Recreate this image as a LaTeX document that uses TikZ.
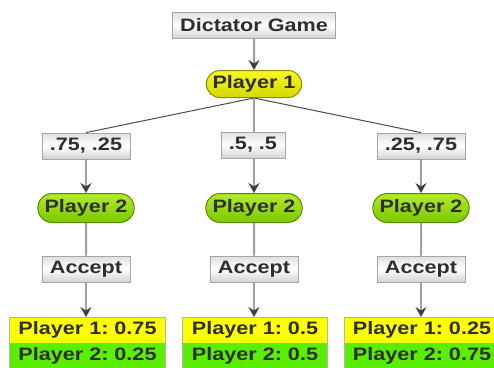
\documentclass[tikz,border=0pt]{standalone}
\usepackage{fontspec}
\setmainfont{Liberation Sans}[FakeStretch=1.2]
\frenchspacing
\usetikzlibrary{arrows.meta,shapes.misc}
\definecolor{txt}{HTML}{2E2E2E}
\definecolor{yA}{RGB}{248,248,40}
\definecolor{yB}{RGB}{215,215,0}
\definecolor{yD}{RGB}{140,140,0}
\definecolor{gA}{RGB}{178,236,40}
\definecolor{gB}{RGB}{122,200,0}
\definecolor{gD}{RGB}{85,140,0}
\definecolor{payY}{RGB}{255,255,0}
\definecolor{payG}{RGB}{90,238,0}
\begin{document}
\begin{tikzpicture}[x=1pt,y=-1pt,
  every node/.style={font=\fontsize{18}{20}\selectfont\bfseries, text=txt},
  graybox/.style={rectangle, draw=gray!70, line width=0.8pt, top color=gray!25, bottom color=gray!35, middle color=white, minimum height=26pt, inner xsep=8pt, inner ysep=0pt},
  pillY/.style={rounded rectangle, draw=yD, line width=1pt, top color=yA, bottom color=yB, minimum width=102pt, minimum height=27pt, inner ysep=0pt},
  pillG/.style={rounded rectangle, draw=gD, line width=1pt, top color=gA, bottom color=gB, minimum width=103pt, minimum height=29pt, inner ysep=0pt},
  rowY/.style={rectangle, fill=payY, minimum height=26pt, inner xsep=8pt, inner ysep=0pt, anchor=north},
  rowG/.style={rectangle, fill=payG, minimum height=26pt, inner xsep=8pt, inner ysep=0pt, anchor=north},
  conn/.style={draw=gray!75, line width=2pt},
  arr/.style={conn, -{Stealth[length=10pt,width=11pt,inset=3.5pt,color=black!75]}},
  fine/.style={draw=black!70, line width=1pt}]
\useasboundingbox (0,0) rectangle (494,367);
\fill[white] (0,0) rectangle (494,367);

\node[graybox] (dg) at (254,25) {Dictator Game};
\node[pillY] (p1) at (254,84) {Player 1};

\node[graybox] (o1) at (86,146) {.75, .25};
\node[graybox] (o2) at (253,145) {.5, .5};
\node[graybox] (o3) at (421,146) {.25, .75};

\node[pillG] (q1) at (86,208) {Player 2};
\node[pillG] (q2) at (254,208) {Player 2};
\node[pillG] (q3) at (421,208) {Player 2};

\node[graybox] (a1) at (86,269) {Accept};
\node[graybox] (a2) at (254,269) {Accept};
\node[graybox] (a3) at (421,269) {Accept};

\node[rowY, minimum width=155pt] (r1a) at (87.5,317) {Player 1: 0.75};
\node[rowG, minimum width=155pt] (r1b) at (87.5,343) {Player 2: 0.25};
\node[rowY, minimum width=144pt] (r2a) at (255,317) {Player 1: 0.5};
\node[rowG, minimum width=144pt] (r2b) at (255,343) {Player 2: 0.5};
\node[rowY, minimum width=154pt] (r3a) at (422,317) {Player 1: 0.25};
\node[rowG, minimum width=154pt] (r3b) at (422,343) {Player 2: 0.75};
\foreach \r in {1,2,3}{
  \draw[gray!60, line width=0.8pt] (r\r a.north west) rectangle (r\r b.south east);
}

\draw[arr] (dg) -- (p1);
\draw[fine] (p1.south) -- (o1.north);
\draw[fine] (p1.south) -- (o3.north);
\draw[conn] (p1.south) -- (p1.south |- o2.north);
\foreach \i in {1,2,3}{
  \draw[arr] (o\i.south -| q\i.north) -- (q\i.north);
  \draw[conn] (q\i) -- (a\i);
  \draw[arr] (a\i) -- (a\i.south |- r\i a.north);
}
\end{tikzpicture}
\end{document}
